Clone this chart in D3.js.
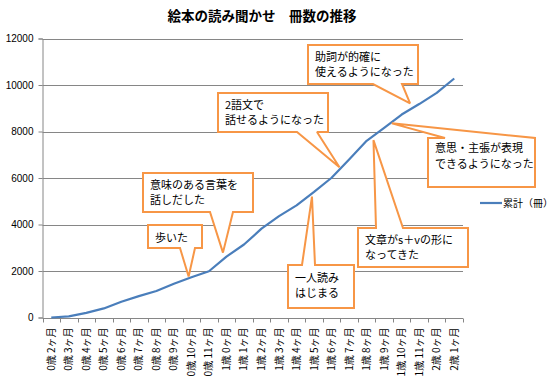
<!DOCTYPE html>
<html>
<head>
<meta charset="utf-8">
<script src="https://cdn.jsdelivr.net/npm/d3@7"></script>
<style>
  body { margin: 0; background: #fff; }
  svg { display: block; font-family: "Noto Sans CJK JP", "Noto Sans", sans-serif; }
</style>
</head>
<body>
<div id="chart"></div>
<script>
// categories (age) and cumulative book counts
const months = [
  "0歳 2ヶ月", "0歳 3ヶ月", "0歳 4ヶ月", "0歳 5ヶ月", "0歳 6ヶ月", "0歳 7ヶ月",
  "0歳 8ヶ月", "0歳 9ヶ月", "0歳 10ヶ月", "0歳 11ヶ月", "1歳 0ヶ月", "1歳 1ヶ月",
  "1歳 2ヶ月", "1歳 3ヶ月", "1歳 4ヶ月", "1歳 5ヶ月", "1歳 6ヶ月", "1歳 7ヶ月",
  "1歳 8ヶ月", "1歳 9ヶ月", "1歳 10ヶ月", "1歳 11ヶ月", "2歳 0ヶ月", "2歳 1ヶ月"
];
const totals = [
  0, 50, 200, 390, 680, 920, 1140, 1450, 1730, 1990, 2620, 3140,
  3820, 4360, 4820, 5400, 6010, 6800, 7600, 8160, 8730, 9180, 9660, 10280
];
const yTicks = [0, 2000, 4000, 6000, 8000, 10000, 12000];
const seriesName = "累計（冊）";
const title = "絵本の読み聞かせ　冊数の推移";

// milestones: text + where the pointer lands (category position, value)
const notes = [
  { lines: ["歩いた"], at: 8.34, value: 1760 },
  { lines: ["意味のある言葉を", "話しだした"], at: 10.3, value: 2790 },
  { lines: ["一人読み", "はじまる"], at: 15.38, value: 5200 },
  { lines: ["文章がs＋vの形に", "なってきた"], at: 18.89, value: 7630 },
  { lines: ["2語文で", "話せるようになった"], at: 16.95, value: 6460 },
  { lines: ["助詞が的確に", "使えるようになった"], at: 20.98, value: 9210 },
  { lines: ["意思・主張が表現", "できるようになった"], at: 19.94, value: 8350 }
];

// box layout for each callout (same order as notes)
const boxes = [
  { x: 148, y: 225, w: 54, h: 23, edge: "bottom", b: [180, 195], ty: 17, lh: 15 },
  { x: 143, y: 173, w: 110, h: 39, edge: "bottom", b: [210, 233], ty: 16, lh: 15 },
  { x: 288, y: 265, w: 66, h: 43, edge: "top", b: [302, 315], ty: 16.5, lh: 15 },
  { x: 358, y: 228, w: 110, h: 39, edge: "top", b: [376, 403], ty: 16, lh: 15 },
  { x: 218, y: 93, w: 110, h: 39, edge: "bottom", b: [297, 317], ty: 16, lh: 15 },
  { x: 308, y: 45, w: 110, h: 39, edge: "bottom", b: [373, 402], ty: 16, lh: 15 },
  { x: 428, y: 138, w: 107, h: 49, edge: "top", b: [445, 535], ty: 14, lh: 16 }
];

const width = 555, height = 376;
const margin = { top: 38.5, right: 92, bottom: 58.5, left: 42.5 };
const orange = "#f79646";

const svg = d3.select("#chart").append("svg")
  .attr("width", width).attr("height", height);

const x = d3.scaleBand()
  .domain(months)
  .range([margin.left, width - margin.right]);
const xPos = d3.scaleLinear()
  .domain([0, months.length])
  .range([margin.left, width - margin.right]);
const y = d3.scaleLinear()
  .domain([0, 12000])
  .range([height - margin.bottom, margin.top]);

// title
svg.append("text")
  .attr("x", 262).attr("y", 21)
  .attr("text-anchor", "middle")
  .style("font-size", "13.5px").style("font-weight", "bold")
  .text(title);

// gridlines
svg.append("g")
  .selectAll("line")
  .data(yTicks.slice(1))
  .join("line")
  .attr("x1", margin.left).attr("x2", width - margin.right)
  .attr("y1", d => Math.round(y(d)) + 0.5).attr("y2", d => Math.round(y(d)) + 0.5)
  .attr("stroke", "#868686");

// y axis
const yAxis = svg.append("g")
  .attr("transform", `translate(${margin.left},0)`)
  .call(d3.axisLeft(y).tickValues(yTicks).tickSize(4).tickPadding(5).tickFormat(d3.format("d")));
yAxis.selectAll("line, path").attr("stroke", "#868686");
yAxis.selectAll("text").style("font-size", "10px").style("font-family", "Liberation Sans, sans-serif").attr("fill", "#000");

// x axis, ticks between categories
const xAxisG = svg.append("g")
  .attr("transform", `translate(0,${Math.round(y(0)) + 0.5})`);
xAxisG.append("line")
  .attr("x1", margin.left).attr("x2", width - margin.right)
  .attr("stroke", "#868686");
xAxisG.selectAll(".tk")
  .data(d3.range(months.length + 1))
  .join("line")
  .attr("class", "tk")
  .attr("x1", d => Math.round(xPos(d)) + 0.5).attr("x2", d => Math.round(xPos(d)) + 0.5)
  .attr("y1", 0).attr("y2", 4)
  .attr("stroke", "#868686");
xAxisG.selectAll("text")
  .data(months)
  .join("text")
  .attr("transform", d => `translate(${x(d) + x.bandwidth() / 2},9) rotate(-90)`)
  .attr("text-anchor", "end")
  .attr("dy", "0.35em")
  .style("font-size", "10px")
  .text(d => d);

// cumulative line
const line = d3.line()
  .x((d, i) => x(months[i]) + x.bandwidth() / 2)
  .y(d => y(d));
svg.append("path")
  .datum(totals)
  .attr("fill", "none")
  .attr("stroke", "#4a7ebb")
  .attr("stroke-width", 2.2)
  .attr("stroke-linejoin", "round")
  .attr("d", line);

// callouts
function calloutPath(b, tx, ty) {
  const { x: bx, y: by, w, h, edge } = b;
  const [b1, b2] = b.b;
  if (edge === "bottom") {
    return `M${bx},${by}H${bx + w}V${by + h}H${b2}L${tx},${ty}L${b1},${by + h}H${bx}Z`;
  }
  return `M${bx},${by}H${b1}L${tx},${ty}L${b2},${by}H${bx + w}V${by + h}H${bx}Z`;
}

const callouts = svg.append("g")
  .selectAll("g")
  .data(notes)
  .join("g");
callouts.append("path")
  .attr("d", (d, i) => calloutPath(boxes[i], xPos(d.at), y(d.value)))
  .attr("fill", "#fff")
  .attr("stroke", orange)
  .attr("stroke-width", 2)
  .attr("stroke-linejoin", "miter")
  .attr("stroke-miterlimit", 2);
callouts.each(function (d, i) {
  const b = boxes[i];
  d3.select(this).selectAll("text")
    .data(d.lines)
    .join("text")
    .attr("x", b.x + 7)
    .attr("y", (t, j) => b.y + b.ty + j * b.lh)
    .style("font-size", "11px")
    .text(t => t);
});

// legend
const legend = svg.append("g").attr("transform", "translate(480,203)");
legend.append("line")
  .attr("x1", 0).attr("x2", 22)
  .attr("stroke", "#4a7ebb").attr("stroke-width", 2.2);
legend.append("text")
  .attr("x", 23).attr("dy", "0.35em")
  .style("font-size", "10px")
  .text(seriesName);
</script>
</body>
</html>
